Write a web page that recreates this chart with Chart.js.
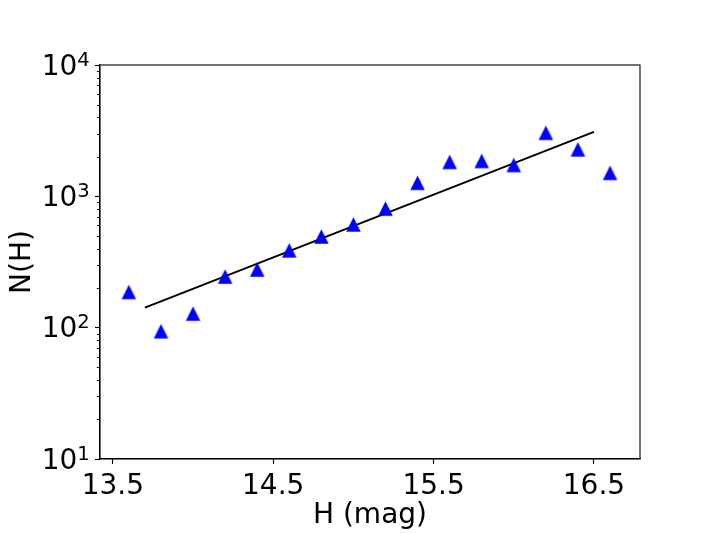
<!DOCTYPE html>
<html>
<head>
<meta charset="utf-8">
<script src="https://cdn.jsdelivr.net/npm/chart.js@4.4.1/dist/chart.umd.min.js"></script>
<style>
  html, body { margin: 0; padding: 0; background: #fff; }
  #wrap { width: 711px; height: 534px; }
</style>
</head>
<body>
<div id="wrap"><canvas id="c" width="711" height="534"></canvas></div>
<script>
'use strict';

// ── Data ─────────────────────────────────────────────────────────
const magH   = [13.6, 13.8, 14.0, 14.2, 14.4, 14.6, 14.8, 15.0, 15.2, 15.4, 15.6, 15.8, 16.0, 16.2, 16.4, 16.6];
const countN = [187, 94, 128, 245, 277, 388, 495, 611, 807, 1268, 1828, 1862, 1734, 3048, 2279, 1510];
const fitH   = [13.7, 16.5];
const fitN   = [142, 3097];
const xTicks = [13.5, 14.5, 15.5, 16.5];
const yTicks = [10, 100, 1000, 10000];
const yTickExp = ['1', '2', '3', '4'];

const FONT = 'DejaVu Sans';

// matplotlib-style '^' marker (width == height)
function triangleMarker(size, color) {
  const c = document.createElement('canvas');
  const s = Math.ceil(size) + 2;
  c.width = s; c.height = s;
  const g = c.getContext('2d');
  const m = (s - size) / 2;
  g.fillStyle = color;
  g.beginPath();
  g.moveTo(s / 2, m);
  g.lineTo(s - m, s - m);
  g.lineTo(m, s - m);
  g.closePath();
  g.fill();
  return c;
}
const marker = triangleMarker(14.5, '#0000ff');

// box on top/right, minor log ticks and 10^n labels on y
const framePlugin = {
  id: 'frame',
  afterDraw(chart) {
    const { ctx, chartArea: a, scales } = chart;
    const y = scales.y;
    ctx.save();
    ctx.strokeStyle = '#000';
    ctx.lineWidth = 1.1;
    ctx.strokeRect(a.left, a.top, a.right - a.left, a.bottom - a.top);
    ctx.lineWidth = 0.9;
    for (let e = 1; e < 4; e++) {
      for (let k = 2; k <= 9; k++) {
        const py = Math.round(y.getPixelForValue(k * Math.pow(10, e))) + 0.5;
        ctx.beginPath();
        ctx.moveTo(a.left - 3.2, py);
        ctx.lineTo(a.left, py);
        ctx.stroke();
      }
    }
    // tick labels: "10" with superscript exponent
    ctx.fillStyle = '#000';
    ctx.textBaseline = 'alphabetic';
    const right = a.left - 10.2;
    yTicks.forEach((v, i) => {
      const py = y.getPixelForValue(v);
      ctx.font = `19.6px "${FONT}"`;
      const ew = ctx.measureText(yTickExp[i]).width;
      ctx.textAlign = 'left';
      ctx.fillText(yTickExp[i], right - ew, py + 0.5);
      ctx.font = `28px "${FONT}"`;
      ctx.textAlign = 'right';
      ctx.fillText('10', right - ew, py + 9.5);
    });
    ctx.restore();
  }
};

new Chart(document.getElementById('c').getContext('2d'), {
  type: 'scatter',
  data: {
    datasets: [
      {
        label: 'N(H)',
        data: magH.map((h, i) => ({ x: h, y: countN[i] })),
        pointStyle: marker,
        pointRadius: 8,
        pointHoverRadius: 8
      },
      {
        label: 'fit',
        type: 'line',
        data: fitH.map((h, i) => ({ x: h, y: fitN[i] })),
        borderColor: '#000',
        borderWidth: 2,
        pointRadius: 0,
        fill: false,
        tension: 0
      }
    ]
  },
  options: {
    responsive: false,
    animation: false,
    devicePixelRatio: 1,
    layout: { padding: { left: 0, top: 65, right: 71, bottom: 0 } },
    plugins: { legend: { display: false }, tooltip: { enabled: false } },
    scales: {
      x: {
        type: 'linear',
        min: 13.42, max: 16.787,
        afterBuildTicks: s => { s.ticks = xTicks.map(v => ({ value: v })); },
        afterFit: s => { s.height = 75; },
        grid: { drawOnChartArea: false, drawTicks: true, tickLength: 5, tickColor: '#000', tickWidth: 1.1 },
        border: { display: true, color: '#000', width: 1.1 },
        ticks: { color: '#000', padding: 5.5, maxRotation: 0, autoSkip: false,
                 font: { family: FONT, size: 28 }, callback: v => v.toFixed(1) },
        title: { display: true, text: 'H (mag)', color: '#000',
                 font: { family: FONT, size: 28 }, padding: { top: 0, bottom: 1 } }
      },
      y: {
        type: 'logarithmic',
        min: 10, max: 10000,
        afterBuildTicks: s => { s.ticks = yTicks.map(v => ({ value: v })); },
        afterFit: s => { s.width = 100; },
        grid: { drawOnChartArea: false, drawTicks: true, tickLength: 5, tickColor: '#000', tickWidth: 1.1 },
        border: { display: true, color: '#000', width: 1.1 },
        ticks: { display: false },
        title: { display: true, text: 'N(H)', color: '#000',
                 font: { family: FONT, size: 28 }, padding: { top: 6, bottom: 0 } }
      }
    }
  },
  plugins: [framePlugin]
});
</script>
</body>
</html>
